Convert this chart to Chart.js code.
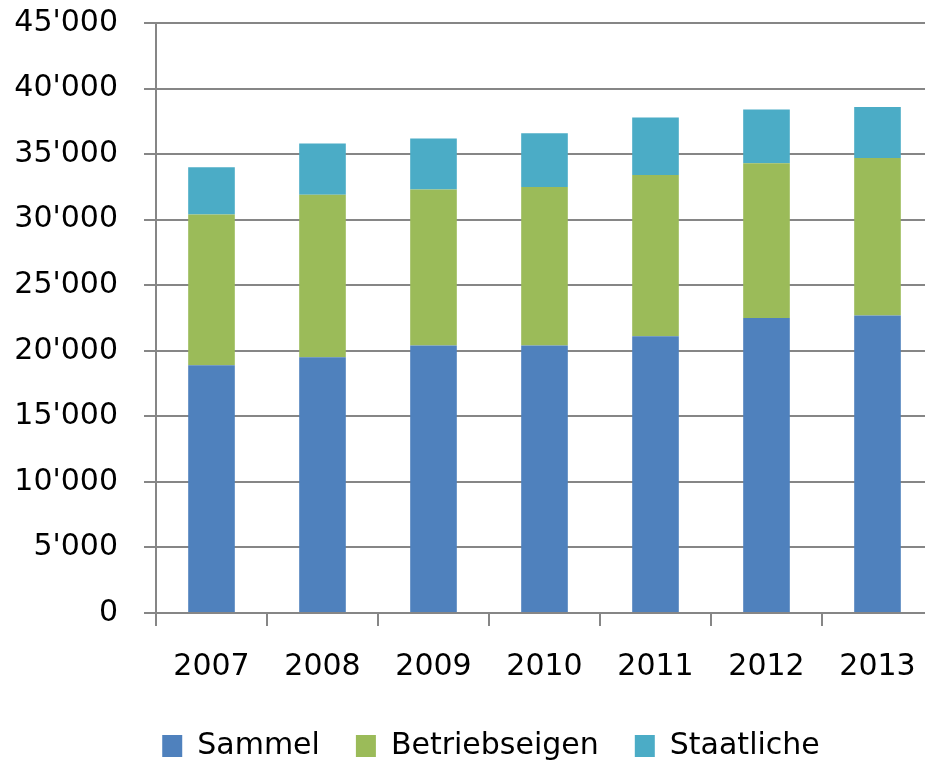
<!DOCTYPE html>
<html>
<head>
<meta charset="utf-8">
<script src="https://cdn.jsdelivr.net/npm/chart.js@4/dist/chart.umd.min.js"></script>
<style>
  html, body { margin: 0; padding: 0; background: #fff; overflow: hidden; }
</style>
</head>
<body>
<canvas id="chart" width="982" height="760"></canvas>
<script>
const years = ['2007', '2008', '2009', '2010', '2011', '2012', '2013'];
const sammel = [18900, 19500, 20400, 20400, 21100, 22500, 22700];
const betriebseigen = [11500, 12400, 11900, 12100, 12300, 11800, 12000];
const staatliche = [3600, 3900, 3900, 4100, 4400, 4100, 3900];

const gray = '#868686';
const font = { family: 'DejaVu Sans', size: 30 };

// 45'000 style thousands separator
function fmt(v) {
  return String(v).replace(/\B(?=(\d{3})+(?!\d))/g, "'");
}

new Chart(document.getElementById('chart'), {
  type: 'bar',
  data: {
    labels: years,
    datasets: [
      { label: 'Sammel', data: sammel, backgroundColor: '#4F81BD' },
      { label: 'Betriebseigen', data: betriebseigen, backgroundColor: '#9BBB59' },
      { label: 'Staatliche', data: staatliche, backgroundColor: '#4BACC6' }
    ]
  },
  options: {
    responsive: false,
    animation: false,
    layout: { autoPadding: false, padding: { top: 23, left: 0, right: 0, bottom: 0 } },
    datasets: { bar: { categoryPercentage: 1, barPercentage: 0.42 } },
    scales: {
      x: {
        stacked: true,
        offset: true,
        grid: { drawOnChartArea: false, drawTicks: true, tickLength: 13, color: gray, lineWidth: 2, offset: true },
        border: { color: gray, width: 2 },
        ticks: { color: '#000', font: font, padding: 23, maxRotation: 0 },
        afterFit: function (axis) { axis.height = 82; }
      },
      y: {
        stacked: true,
        min: 0,
        max: 45000,
        grid: { color: gray, lineWidth: 2, tickLength: 12 },
        border: { color: gray, width: 2 },
        ticks: { stepSize: 5000, color: '#000', font: font, padding: 26, callback: fmt },
        afterFit: function (axis) {
          axis.width = 156;
          axis.paddingTop = 0;
          axis.paddingBottom = 0;
        }
      },
      // empty right-hand axis, only reserves the space the plot runs past the picture
      yRight: {
        position: 'right',
        grid: { display: false },
        border: { display: false },
        ticks: { display: false },
        afterFit: function (axis) { axis.width = 49; }
      }
    },
    plugins: {
      tooltip: { enabled: false },
      legend: {
        position: 'bottom',
        maxHeight: 65,
        labels: { color: '#000', font: font, boxWidth: 20, boxHeight: 22, padding: 36 }
      }
    }
  }
});
</script>
</body>
</html>
